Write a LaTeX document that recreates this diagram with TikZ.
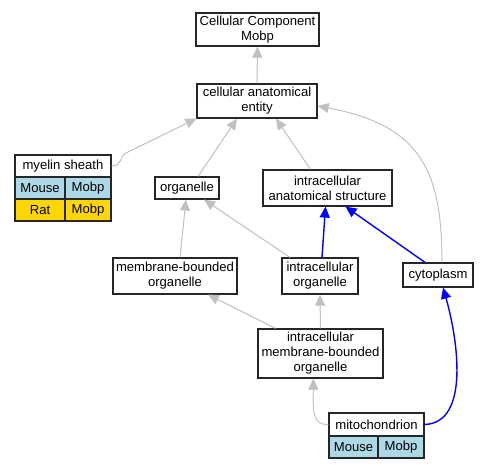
\documentclass[tikz,border=0pt]{standalone}
\usepackage{fontspec}
\setmainfont{Liberation Sans}
\usetikzlibrary{arrows.meta,calc}
\begin{document}
\begin{tikzpicture}[x=1pt,y=-1pt,
  box/.style={draw=black!85,line width=1.2pt,fill=white,inner sep=0pt,align=center,font=\fontsize{13.1}{15}\selectfont},
  mouse/.style={box,fill={rgb,255:red,173;green,216;blue,230}},
  rat/.style={box,fill={rgb,255:red,255;green,215;blue,0}},
  isa/.style={draw={rgb,255:red,192;green,192;blue,192},line width=1pt,-{Triangle[length=11pt,width=10pt]}},
  part/.style={draw=blue,line width=1.4pt,-{Triangle[length=11pt,width=10pt]}}]
\useasboundingbox (0,0) rectangle (489,469);
\node[box,minimum width=123pt,minimum height=33pt] (cc) at (257.5,29.5) {Cellular Component\\Mobp};
\node[box,minimum width=120pt,minimum height=34pt] (cae) at (257,101) {cellular anatomical\\entity};
\node[box,minimum width=96pt,minimum height=22pt] (my) at (63,166) {myelin sheath};
\node[mouse,minimum width=50pt,minimum height=22pt] (my1) at (40,188) {Mouse};
\node[mouse,minimum width=46pt,minimum height=22pt] (my2) at (88,188) {Mobp};
\node[rat,minimum width=50pt,minimum height=22pt] (my3) at (40,210) {Rat};
\node[rat,minimum width=46pt,minimum height=22pt] (my4) at (88,210) {Mobp};
\node[box,minimum width=64pt,minimum height=22pt] (org) at (187,188) {organelle};
\node[box,minimum width=129pt,minimum height=36pt] (ias) at (327.5,188) {intracellular\\anatomical structure};
\node[box,minimum width=124pt,minimum height=36pt] (mbo) at (175,276) {membrane-bounded\\organelle};
\node[box,minimum width=76pt,minimum height=36pt] (io) at (320,276) {intracellular\\organelle};
\node[box,minimum width=70pt,minimum height=24pt] (cyto) at (438,275) {cytoplasm};
\node[box,minimum width=125pt,minimum height=49pt] (imbo) at (320.5,353.5) {intracellular\\membrane-bounded\\organelle};
\node[box,minimum width=95pt,minimum height=23pt] (mito) at (376.5,424.5) {mitochondrion};
\node[mouse,minimum width=49pt,minimum height=22pt] (mi1) at (353.5,447) {Mouse};
\node[mouse,minimum width=46pt,minimum height=22pt] (mi2) at (401,447) {Mobp};

\draw[isa] (cae.north) -- (cc.south);
\draw[isa] (my.east) .. controls +(12,0) and (118,156) .. (128,152) -- (cae.south west);
\draw[isa] ($(org.north)+(11,0)$) -- ($(cae.south)+(-20,0)$);
\draw[isa] ($(ias.north)+(-17,0)$) -- ($(cae.south)+(19,0)$);
\draw[isa] ($(cyto.north)+(4,0)$) .. controls (442,170) and (420,125) .. ($(cae.east)+(0,5)$);
\draw[isa] ($(mbo.north)+(5,0)$) -- ($(org.south)+(-1,0)$);
\draw[isa] ($(io.north)+(-30,0)$) -- ($(org.south)+(17,0)$);
\draw[part] ($(io.north)+(2,0)$) -- ($(ias.south)+(-2,0)$);
\draw[part] ($(cyto.north)+(-13,0)$) -- ($(ias.south)+(18,0)$);
\draw[isa] ($(imbo.north)+(-45,0)$) -- ($(mbo.south)+(33,0)$);
\draw[isa] (imbo.north) -- (io.south);
\draw[isa] (mito.west) .. controls (312,425) and (313,410) .. ($(imbo.south)+(-7,0)$);
\draw[part] (mito.east) .. controls (470,423) and (458,340) .. ($(cyto.south)+(5,0)$);
\end{tikzpicture}
\end{document}
